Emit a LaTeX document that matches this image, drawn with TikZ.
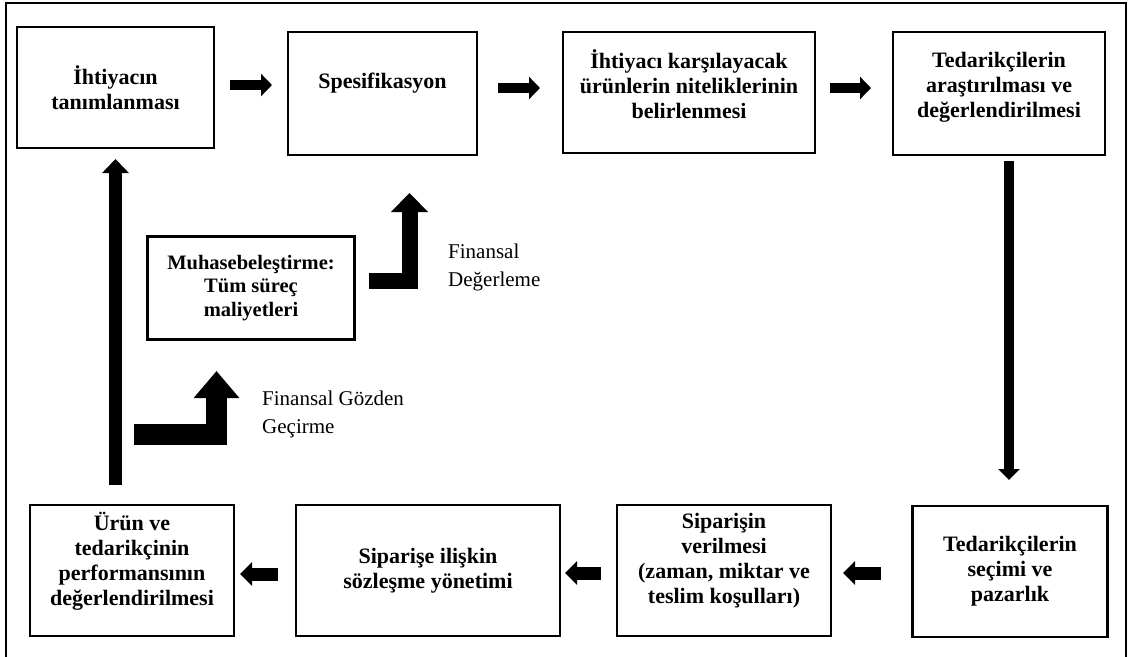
\documentclass[tikz,border=0pt]{standalone}
\usepackage{fontspec}
\setmainfont{Liberation Serif}
\usetikzlibrary{arrows.meta}
% extra depth on a last line pushes a centred text block upwards
\newcommand\lowpad[1]{\rule[-#1]{0pt}{#1}}
\begin{document}
\begin{tikzpicture}[x=1pt,y=-1pt,
  stage/.style={draw, line width=2.4pt, align=center, inner sep=0pt,
    font=\fontsize{22}{25}\selectfont\bfseries},
  note/.style={align=left, inner sep=0pt, anchor=west,
    font=\fontsize{21}{28}\selectfont},
  rightflow/.style={line width=9.5pt, -{Triangle[width=22pt,length=11pt]}},
  leftflow/.style={line width=13pt, -{Triangle[width=23pt,length=12pt]}},
  downflow/.style={line width=9.5pt, -{Triangle[width=21pt,length=11pt]}},
  upflow/.style={line width=13pt, -{Triangle[width=26pt,length=14pt]}},
  turnsmall/.style={line width=16pt, line join=miter, -{Triangle[width=36pt,length=19pt]}},
  turnbig/.style={line width=21.5pt, line join=miter, -{Triangle[width=44pt,length=27pt]}}
]
\useasboundingbox (0,0) rectangle (1129,656);
\clip (0,0) rectangle (1129,656);

% outer frame (open at the lower edge of the page)
\draw[line width=1.8pt] (6,3) rectangle (1126,700);

% process stages, top row
\node[stage, minimum width=197pt, minimum height=121pt] (b1) at (115.5,87.5)
  {İhtiyacın\\tanımlanması};
\node[stage, minimum width=189pt, minimum height=123pt] (b2) at (382.5,93.5)
  {Spesifikasyon\lowpad{26pt}};
\node[stage, minimum width=252pt, minimum height=121pt] (b3) at (689,92.5)
  {İhtiyacı karşılayacak\\ürünlerin niteliklerinin\\belirlenmesi\lowpad{17pt}};
\node[stage, minimum width=212pt, minimum height=123pt] (b4) at (999,93.5)
  {Tedarikçilerin\\araştırılması ve\\değerlendirilmesi\lowpad{17pt}};

% process stages, bottom row
\node[stage, minimum width=195pt, minimum height=131pt] (b5) at (1010,571.5)
  {Tedarikçilerin\\seçimi ve\\pazarlık};
\node[stage, minimum width=214pt, minimum height=131pt] (b6) at (724,570.5)
  {Siparişin\\verilmesi\\(zaman, miktar ve\\teslim koşulları)\lowpad{24pt}};
\node[stage, minimum width=264pt, minimum height=131pt] (b7) at (428,570.5)
  {Siparişe ilişkin\\sözleşme yönetimi};
\node[stage, minimum width=204pt, minimum height=131pt] (b8) at (132,570.5)
  {Ürün ve\\tedarikçinin\\performansının\\değerlendirilmesi\lowpad{24pt}};

% accounting box
\node[stage, minimum width=207pt, minimum height=103pt,
  font=\fontsize{20.5}{23.5}\selectfont\bfseries] (m) at (251,288)
  {Muhasebeleştirme:\\Tüm süreç\\maliyetleri};

% side notes
\node[note] (n1) at (448,267) {Finansal\\Değerleme};
\node[note] (n2) at (262,414) {Finansal Gözden\\Geçirme};

% arrow end points
\coordinate (r1s) at (230,85);   \coordinate (r1e) at (272,85);
\coordinate (r2s) at (498,88);   \coordinate (r2e) at (540,88);
\coordinate (r3s) at (830,88);   \coordinate (r3e) at (871,88);
\coordinate (ds)  at (1009,161); \coordinate (de)  at (1009,480);
\coordinate (l1s) at (881,573);  \coordinate (l1e) at (843,573);
\coordinate (l2s) at (601,573);  \coordinate (l2e) at (565,573);
\coordinate (l3s) at (278,574);  \coordinate (l3e) at (240,574);
\coordinate (us)  at (115.5,485); \coordinate (ue) at (115.5,159);
\coordinate (t1s) at (369,280.5); \coordinate (t1e) at (409.5,193);
\coordinate (t2s) at (134,434.5); \coordinate (t2e) at (216.5,371);

% flow arrows
\draw[rightflow] (r1s) -- (r1e);
\draw[rightflow] (r2s) -- (r2e);
\draw[rightflow] (r3s) -- (r3e);
\draw[downflow] (ds) -- (de);
\draw[leftflow] (l1s) -- (l1e);
\draw[leftflow] (l2s) -- (l2e);
\draw[leftflow] (l3s) -- (l3e);
\draw[upflow] (us) -- (ue);
\draw[turnsmall] (t1s) -| (t1e);
\draw[turnbig] (t2s) -| (t2e);
\end{tikzpicture}
\end{document}
